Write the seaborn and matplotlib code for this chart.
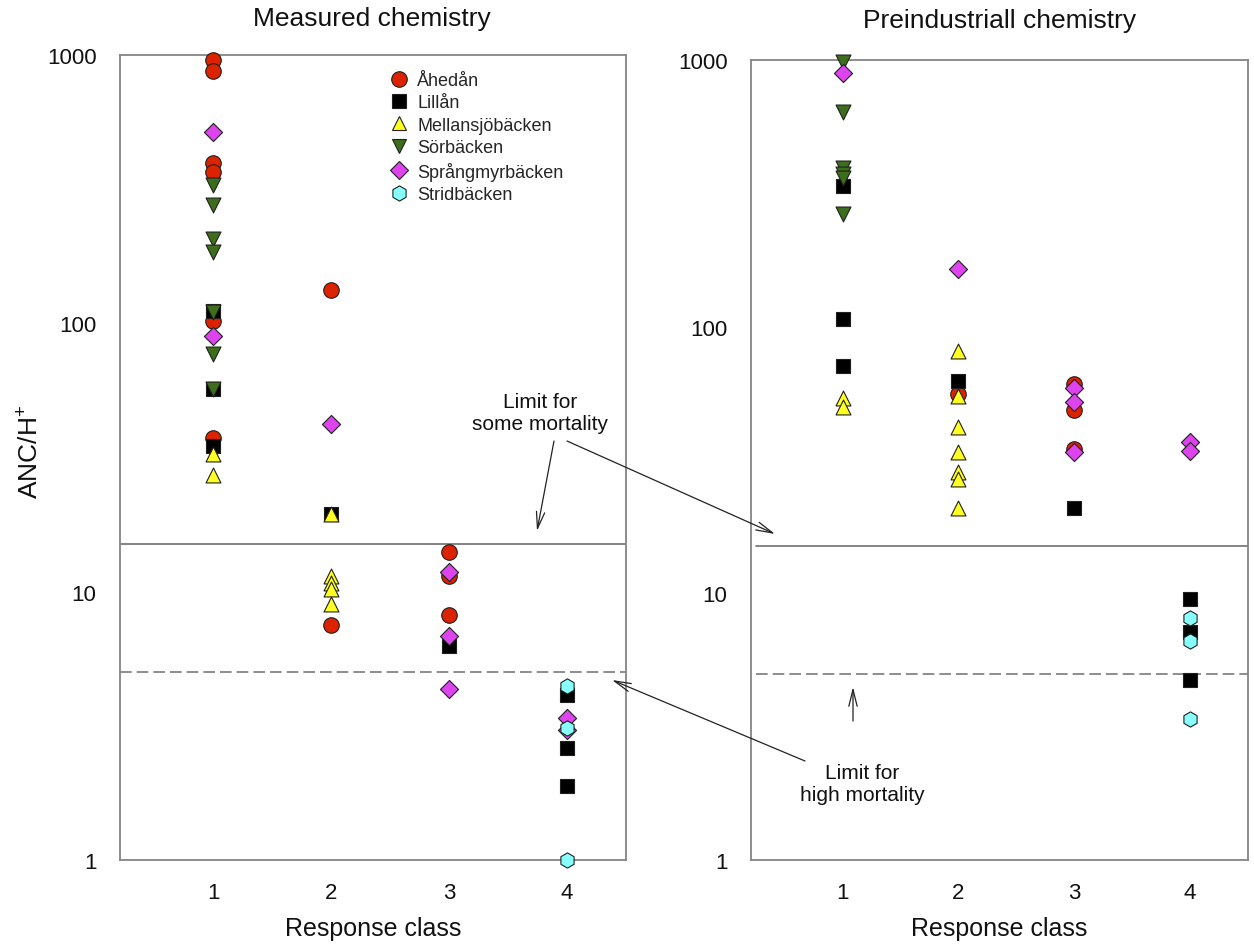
import numpy as np
import pandas as pd
import matplotlib
matplotlib.use("Agg")
import matplotlib.pyplot as plt
import seaborn as sns
from matplotlib.lines import Line2D
from matplotlib.ticker import LogLocator, NullFormatter

# Streams and their symbols
STREAMS = ["Åhedån", "Lillån", "Mellansjöbäcken", "Sörbäcken", "Språngmyrbäcken", "Stridbäcken"]
MARKERS = ["o", "s", "^", "v", "D", "h"]
COLORS = ["#dd2200", "#000000", "#ffff22", "#3d6e1c", "#dd44ee", "#88ffff"]
SIZES = [125, 105, 115, 115, 85, 120]

# Measured chemistry: response class and ANC/H+ per stream
MEAS_AHEDAN_CLASS = [1, 1, 1, 1, 1, 1, 2, 2, 3, 3, 3]
MEAS_AHEDAN_ANC = [960, 874, 395, 367, 102, 37.5, 133, 7.5, 14.0, 11.4, 8.2]
MEAS_LILLAN_CLASS = [1, 1, 1, 2, 3, 4, 4, 4]
MEAS_LILLAN_ANC = [111, 56.7, 35, 19.4, 6.3, 4.13, 2.62, 1.88]
MEAS_MELLAN_CLASS = [1, 1, 2, 2, 2, 2, 2]
MEAS_MELLAN_ANC = [32.5, 27.3, 19.4, 11.4, 10.8, 10.2, 9.0]
MEAS_SORB_CLASS = [1, 1, 1, 1, 1, 1, 1]
MEAS_SORB_ANC = [327, 276, 207, 184, 110, 76.6, 56.7]
MEAS_SPRANG_CLASS = [1, 1, 2, 3, 3, 3, 4, 4]
MEAS_SPRANG_ANC = [515, 89.7, 42, 11.8, 6.85, 4.33, 3.38, 3.05]
MEAS_STRID_CLASS = [4, 4, 4]
MEAS_STRID_ANC = [4.47, 3.10, 1.0]

# Preindustrial chemistry
PRE_AHEDAN_CLASS = [2, 3, 3, 3]
PRE_AHEDAN_ANC = [56, 61, 48.5, 34.8]
PRE_LILLAN_CLASS = [1, 1, 1, 2, 3, 4, 4, 4]
PRE_LILLAN_ANC = [338, 107, 71.5, 62.8, 20.9, 9.5, 7.15, 4.75]
PRE_MELLAN_CLASS = [1, 1, 2, 2, 2, 2, 2, 2, 2]
PRE_MELLAN_ANC = [53.9, 49.9, 81, 55, 42.2, 33.8, 28.4, 26.8, 20.9]
PRE_SORB_CLASS = [1, 1, 1, 1, 1, 1]
PRE_SORB_ANC = [980, 640, 392, 375, 360, 265]
PRE_SPRANG_CLASS = [1, 2, 3, 3, 3, 4, 4]
PRE_SPRANG_ANC = [890, 164, 58.8, 52.1, 33.8, 36.8, 34.3]
PRE_STRID_CLASS = [4, 4, 4]
PRE_STRID_ANC = [8.07, 6.65, 3.38]

LIMIT_SOME = 15
LIMIT_HIGH = 5

W, H = 1254, 945
EDGE = "#202020"
SPINE = "#858585"


def px(x, y):
    """Pixel position (from top-left) to figure fraction."""
    return (x / W, 1 - y / H)


def make_frame(class_lists, value_lists):
    rows = []
    for name, cls, vals in zip(STREAMS, class_lists, value_lists):
        for c, v in zip(cls, vals):
            rows.append({"Stream": name, "Response class": c, "ANC": v})
    return pd.DataFrame(rows)


def plot_panel(ax, df, gap_line=0.0):
    ax.set_facecolor("none")
    for name, m, c, s in zip(STREAMS, MARKERS, COLORS, SIZES):
        sub = df[df["Stream"] == name]
        sns.scatterplot(data=sub, x="Response class", y="ANC", marker=m, color=c,
                        s=s, edgecolor=EDGE, linewidth=0.8, clip_on=False,
                        zorder=3, legend=False, ax=ax)

    ax.axhline(LIMIT_SOME, xmin=gap_line, color="#7a7a7a", lw=1.3, zorder=1)
    ax.axhline(LIMIT_HIGH, xmin=gap_line, color="#7a7a7a", lw=1.2,
               dashes=(7, 3), zorder=1)

    ax.set_yscale("log")
    ax.set_ylim(1, 1000)
    ax.set_xlim(0.21, 4.5)
    ax.set_xticks([1, 2, 3, 4])
    ax.set_yticks([1, 10, 100, 1000])
    ax.set_yticklabels(["1", "10", "100", "1000"])
    ax.yaxis.set_minor_locator(LogLocator(base=10, subs=np.arange(2, 10) * 1.0, numticks=20))
    ax.yaxis.set_minor_formatter(NullFormatter())
    ax.tick_params(axis="both", which="major", direction="out", length=7, width=1,
                   color=SPINE, labelsize=16, labelcolor="#111111")
    ax.tick_params(axis="x", which="major", length=5, pad=11)
    ax.tick_params(axis="y", which="major", pad=10)
    ax.tick_params(axis="y", which="minor", direction="out", length=4, width=1, color=SPINE)
    ax.tick_params(axis="x", which="minor", bottom=False)
    for sp in ax.spines.values():
        sp.set_visible(True)
        sp.set_color(SPINE)
        sp.set_linewidth(1.3)
    ax.set_ylabel("")
    ax.set_xlabel("Response class", fontsize=18, color="#111111", labelpad=9)


def arrow(ax, start, end):
    ax.annotate("", xy=px(*end), xycoords="figure fraction",
                xytext=px(*start), textcoords="figure fraction",
                arrowprops=dict(arrowstyle="->,head_length=1.2,head_width=0.3",
                                lw=0.9, color="#222222", shrinkA=0, shrinkB=0),
                annotation_clip=False, zorder=10)


def main():
    sns.set_style("white")
    plt.rcParams["font.family"] = ["Liberation Sans", "DejaVu Sans"]
    plt.rcParams["mathtext.fontset"] = "custom"
    plt.rcParams["mathtext.rm"] = "Liberation Sans"

    measured = make_frame(
        [MEAS_AHEDAN_CLASS, MEAS_LILLAN_CLASS, MEAS_MELLAN_CLASS,
         MEAS_SORB_CLASS, MEAS_SPRANG_CLASS, MEAS_STRID_CLASS],
        [MEAS_AHEDAN_ANC, MEAS_LILLAN_ANC, MEAS_MELLAN_ANC,
         MEAS_SORB_ANC, MEAS_SPRANG_ANC, MEAS_STRID_ANC])
    preind = make_frame(
        [PRE_AHEDAN_CLASS, PRE_LILLAN_CLASS, PRE_MELLAN_CLASS,
         PRE_SORB_CLASS, PRE_SPRANG_CLASS, PRE_STRID_CLASS],
        [PRE_AHEDAN_ANC, PRE_LILLAN_ANC, PRE_MELLAN_ANC,
         PRE_SORB_ANC, PRE_SPRANG_ANC, PRE_STRID_ANC])

    fig = plt.figure(figsize=(W / 100, H / 100), dpi=100)
    ax1 = fig.add_axes([120 / W, 1 - 861 / H, 506 / W, 805 / H])
    ax2 = fig.add_axes([751 / W, 1 - 861 / H, 497 / W, 800 / H])

    plot_panel(ax1, measured)
    plot_panel(ax2, preind, gap_line=0.01)

    fig.text(*px(372, 19), "Measured chemistry", ha="center", va="center",
             fontsize=19, color="#111111")
    fig.text(*px(1000, 21), "Preindustriall chemistry", ha="center", va="center",
             fontsize=19, color="#111111")
    fig.text(*px(30, 452), "ANC/H$^{+}$", ha="center", va="center", rotation=90,
             fontsize=19, color="#111111")

    # legend
    handles = [Line2D([], [], linestyle="none", marker=m, markerfacecolor=c,
                      markeredgecolor=EDGE, markeredgewidth=0.8,
                      markersize=np.sqrt(s))
               for m, c, s in zip(MARKERS, COLORS, SIZES)]
    ax1.legend(handles, STREAMS, loc="upper left", bbox_to_anchor=(0.534, 0.979),
               frameon=False, fontsize=13, handlelength=1.0, handletextpad=0.5,
               labelspacing=0.3, borderpad=0, borderaxespad=0)

    # limit annotations, drawn on the right panel so they sit on top of both
    fig.text(*px(540, 414), "Limit for\nsome mortality", ha="center", va="center",
             fontsize=15, color="#111111")
    fig.text(*px(862, 785), "Limit for\nhigh mortality", ha="center", va="center",
             fontsize=15, color="#111111")
    arrow(ax2, (554, 442), (537, 532))
    arrow(ax2, (567, 442), (775, 535))
    arrow(ax2, (853, 722), (853, 688))
    arrow(ax2, (805, 762), (612, 681))

    fig.savefig("out.png", dpi=100)


if __name__ == "__main__":
    main()
